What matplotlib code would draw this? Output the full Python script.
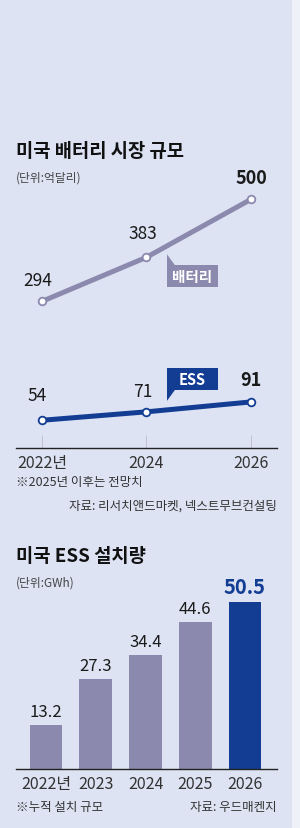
import matplotlib
matplotlib.use("Agg")
import matplotlib.pyplot as plt
from matplotlib.patches import Rectangle, Polygon
from matplotlib.transforms import Affine2D

plt.rcParams['font.family'] = ['Noto Sans CJK KR', 'DejaVu Sans']

# data
line_years = [2022, 2024, 2026]
line_ticks = ["2022년", "2024", "2026"]
battery = [294, 383, 500]
ess = [54, 71, 91]

bar_years = ["2022년", "2023", "2024", "2025", "2026"]
ess_install = [13.2, 27.3, 34.4, 44.6, 50.5]

BG = "#dde3f3"
PURPLE = "#8b89ad"
BLUE = "#133d93"

W, H = 300, 829
fig = plt.figure(figsize=(W / 100, H / 100), dpi=100)
fig.patch.set_facecolor(BG)
fig.patches.append(Rectangle((292 / W, 0), 8 / W, 1, transform=fig.transFigure,
                             facecolor="#eef1f8", edgecolor="none"))


def px_axes(left, top, right, bottom):
    return fig.add_axes([left / W, 1 - bottom / H, (right - left) / W, (bottom - top) / H])


# ---- line chart ----
ax = px_axes(16, 180, 277, 449)
ax.set_facecolor("none")
ax.set_xlim(2021.502, 2026.498)
ax.set_ylim(-2, 541)
for s in ["top", "right", "left"]:
    ax.spines[s].set_visible(False)
ax.spines["bottom"].set_color("#222222")
ax.spines["bottom"].set_linewidth(1.0)
ax.set_yticks([])
ax.set_xticks(line_years)
ax.set_xticklabels(line_ticks, fontsize=11.5, color="#333333")
ax.tick_params(axis="x", length=0, pad=4)
ax.vlines(line_years, -2, 25, color="#b9bccb", lw=0.6, zorder=1)

ax.plot(line_years, battery, color=PURPLE, lw=3.6, marker="o", ms=5.5,
        mfc="white", mec=PURPLE, mew=1.3, zorder=3, solid_capstyle="round")
ax.plot(line_years, ess, color=BLUE, lw=3.6, marker="o", ms=5.5,
        mfc="white", mec=BLUE, mew=1.3, zorder=3, solid_capstyle="round")

bat_off = [(-4, 21), (-4, 24), (0, 22)]
ess_off = [(-5, 25), (-4, 21), (0, 22)]
for vals, offs in [(battery, bat_off), (ess, ess_off)]:
    for i, (x, v) in enumerate(zip(line_years, vals)):
        last = i == len(vals) - 1
        ax.annotate(str(v), (x, v), xytext=offs[i], textcoords="offset pixels",
                    ha="center", va="center", fontsize=13 if last else 12.5,
                    fontweight="bold" if last else "normal", color="#1a1a1a")


def callout(x, y, dx, dy, label, color, up):
    # box centred at (dx, dy) pixels from the point, with a small pointer
    bw, bh = 51, 22
    l, b = dx - bw / 2, dy - bh / 2
    t = b + bh
    move = Affine2D().translate(*ax.transData.transform((x, y)))
    box = Rectangle((l, b), bw, bh, facecolor=color, edgecolor="none", zorder=4)
    box.set_transform(move)
    ax.add_patch(box)
    if up:
        tri = [(l, t), (l, t + 11), (l + 8, t)]
    else:
        tri = [(l, b), (l, b - 11), (l + 8, b)]
    p = Polygon(tri, closed=True, facecolor=color, edgecolor="none", zorder=4)
    p.set_transform(move)
    ax.add_patch(p)
    ax.annotate(label, (x, y), xytext=(dx, dy), textcoords="offset pixels",
                ha="center", va="center", fontsize=10.5, fontweight="bold",
                color="white", zorder=5)


callout(line_years[1], battery[1], 46, -19, "배터리", PURPLE, True)
callout(line_years[1], ess[1], 46, 33, "ESS", BLUE, False)

fig.text(16 / W, 1 - 152 / H, "미국 배터리 시장 규모", fontsize=13.5, fontweight="bold",
         va="center", ha="left", color="#111111")
fig.text(16 / W, 1 - 178 / H, "(단위:억달리)", fontsize=8.5, va="center",
         ha="left", color="#444444")
fig.text(16 / W, 1 - 483 / H, "※2025년 이후는 전망치", fontsize=9,
         va="center", ha="left", color="#333333")
fig.text(277 / W, 1 - 506 / H, "자료: 리서치앤드마켓, 넥스트무브컨설팅", fontsize=9,
         va="center", ha="right", color="#333333")

# ---- bar chart ----
bx = px_axes(16, 590, 277, 770)
bx.set_facecolor("none")
pos = list(range(len(bar_years)))
bx.set_xlim(-0.603, 4.643)
bx.set_ylim(0, 54.5)
for s in ["top", "right", "left"]:
    bx.spines[s].set_visible(False)
bx.spines["bottom"].set_color("#222222")
bx.spines["bottom"].set_linewidth(1.0)
bx.set_yticks([])
colors = [PURPLE] * (len(bar_years) - 1) + [BLUE]
bx.bar(pos, ess_install, width=0.66, color=colors, zorder=2)
bx.set_xticks(pos)
bx.set_xticklabels(bar_years, fontsize=11.5, color="#333333")
bx.tick_params(axis="x", length=0, pad=4)
for i, v in enumerate(ess_install):
    last = i == len(ess_install) - 1
    bx.annotate(f"{v:.1f}", (i, v), xytext=(0, 5), textcoords="offset pixels",
                ha="center", va="bottom", fontsize=14.5 if last else 12,
                fontweight="bold" if last else "normal",
                color=BLUE if last else "#1a1a1a")

fig.text(16 / W, 1 - 557 / H, "미국 ESS 설치량", fontsize=13.5, fontweight="bold",
         va="center", ha="left", color="#111111")
fig.text(16 / W, 1 - 583 / H, "(단위:GWh)", fontsize=8.5, va="center",
         ha="left", color="#444444")
fig.text(16 / W, 1 - 808 / H, "※누적 설치 규모", fontsize=9,
         va="center", ha="left", color="#333333")
fig.text(277 / W, 1 - 808 / H, "자료: 우드매켄지", fontsize=9,
         va="center", ha="right", color="#333333")

fig.savefig("out.png", dpi=100, facecolor=BG)
